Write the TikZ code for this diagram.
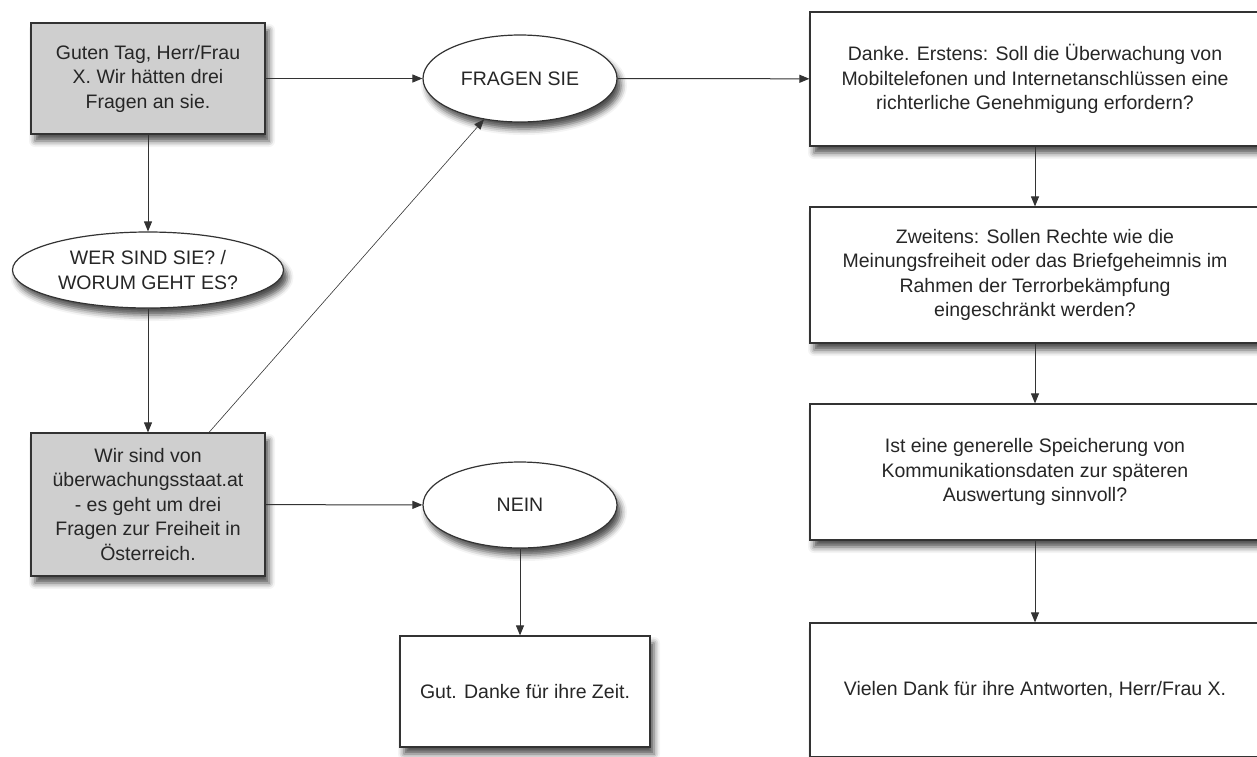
\documentclass[tikz,border=0pt]{standalone}
\usepackage{fontspec}
\setmainfont{Liberation Sans}
\usepackage{tikz}
\usetikzlibrary{shapes.geometric}
\usetikzlibrary{arrows.meta}
\usetikzlibrary{shadows.blur}

\begin{document}
\begin{tikzpicture}[x=1pt, y=-1pt, line width=1.2pt,
  box/.style={draw=black!80, fill=white, align=center, inner sep=0pt, text=black!85,
    font=\fontsize{19.5}{24.5}\selectfont,
    blur shadow={shadow xshift=4pt, shadow yshift=-7pt, shadow blur radius=6pt, shadow opacity=70}},
  graybox/.style={box, fill=black!19},
  oval/.style={box, ellipse},
  arr/.style={draw=black!80, line width=1pt, -{Triangle[length=10pt, width=8pt]}}]
\useasboundingbox (0,0) rectangle (1257,756);

\node [graybox, minimum width=234pt, minimum height=111pt] (greet) at (148,78.5) {Guten Tag, Herr/Frau\\X. Wir hätten drei\\Fragen an sie.};
\node [oval, minimum width=271pt, minimum height=76pt] (who) at (148,270) {WER SIND SIE? /\\WORUM GEHT ES?};
\node [graybox, minimum width=234pt, minimum height=143pt] (about) at (148,504.5) {Wir sind von\\überwachungsstaat.at\\- es geht um drei\\Fragen zur Freiheit in\\Österreich.};
\node [oval, minimum width=194pt, minimum height=87pt] (ask) at (520,78.5) {FRAGEN SIE};
\node [oval, minimum width=194pt, minimum height=86pt] (no) at (520,505) {NEIN};
\node [box, minimum width=250pt, minimum height=111pt] (bye) at (525,691.5) {Gut. Danke für ihre Zeit.};

\node [box, minimum width=450pt, minimum height=134pt] (first) at (1035,79) {Danke. Erstens: Soll die Überwachung von\\Mobiltelefonen und Internetanschlüssen eine\\richterliche Genehmigung erfordern?};
\node [box, minimum width=450pt, minimum height=136pt] (second) at (1035,275) {Zweitens: Sollen Rechte wie die\\Meinungsfreiheit oder das Briefgeheimnis im\\Rahmen der Terrorbekämpfung\\eingeschränkt werden?};
\node [box, minimum width=450pt, minimum height=136pt] (third) at (1035,472) {Ist eine generelle Speicherung von\\Kommunikationsdaten zur späteren\\Auswertung sinnvoll?};
\node [box, minimum width=450pt, minimum height=134pt] (thanks) at (1035,690) {Vielen Dank für ihre Antworten, Herr/Frau X.};

\draw [arr] (greet) -- (ask);
\draw [arr] (ask) -- (first);
\draw [arr] (greet) -- (who);
\draw [arr] (who) -- (about);
\draw [arr, line width=0.6pt] ([xshift=61pt]about.north) -- (ask);
\draw [arr] (about) -- (no);
\draw [arr] (no.south) -- (no.south |- bye.north);
\draw [arr] (first) -- (second);
\draw [arr] (second) -- (third);
\draw [arr] (third) -- (thanks);
\end{tikzpicture}
\end{document}
